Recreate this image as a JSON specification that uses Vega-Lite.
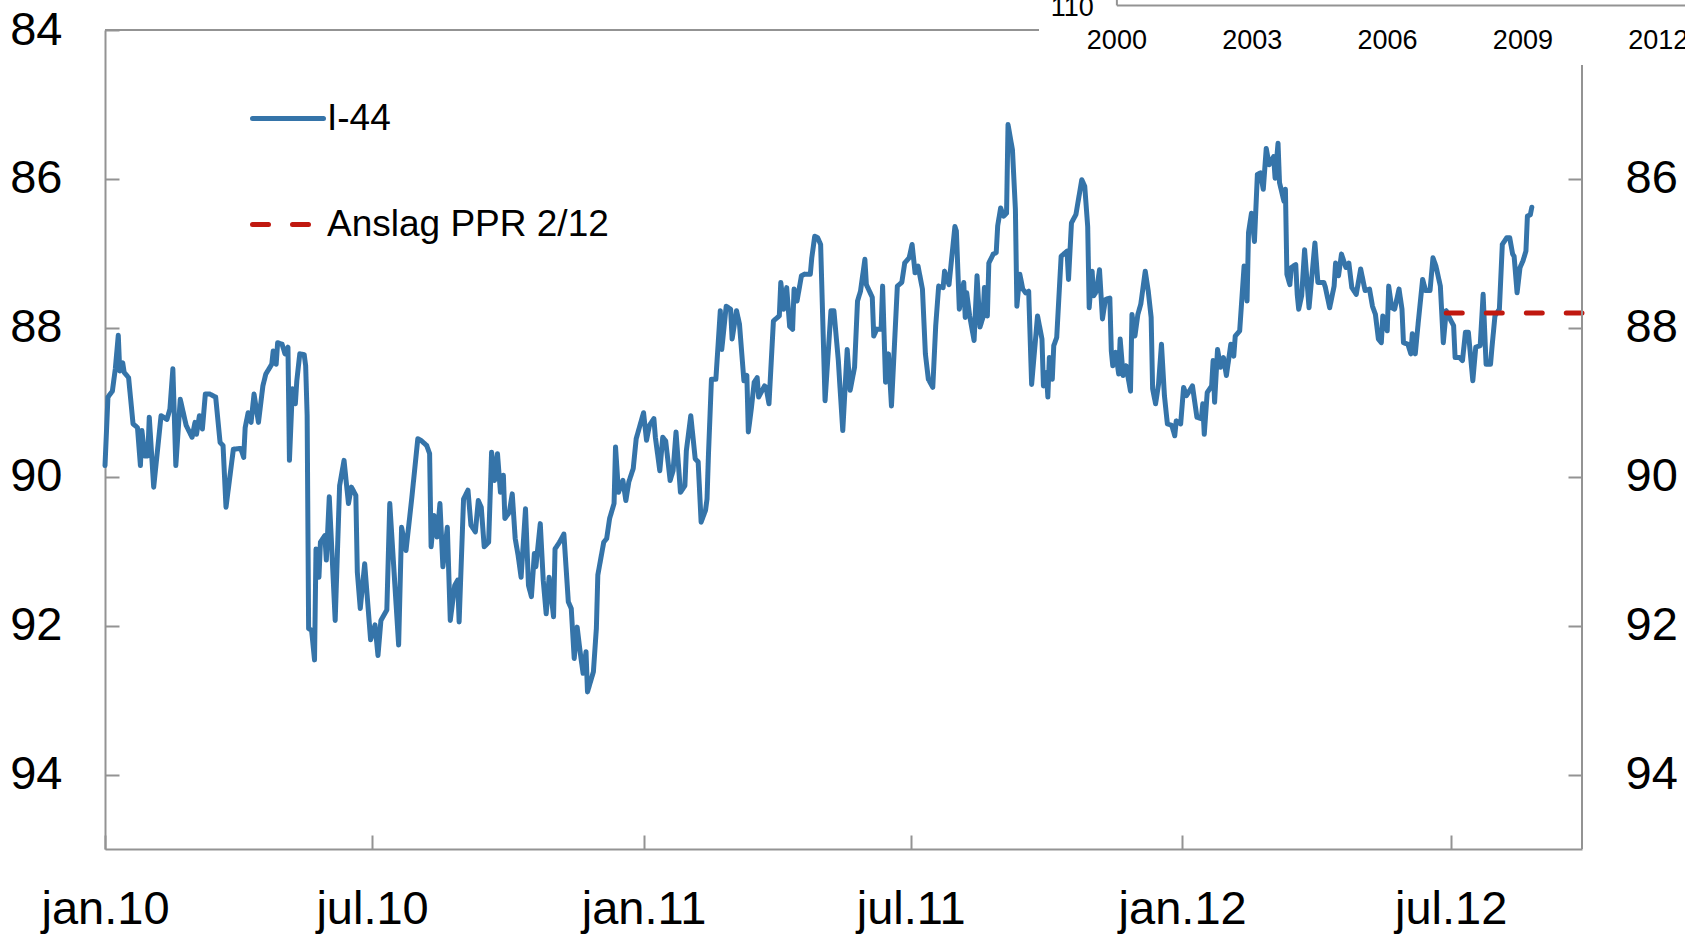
{
  "$schema": "https://vega.github.io/schema/vega-lite/v6.json",
  "width": 1477,
  "height": 819,
  "autosize": {"type": "none"},
  "padding": {"left": 105, "top": 30, "right": 103, "bottom": 86},
  "background": "white",
  "config": {
    "font": "Liberation Sans",
    "view": {"stroke": null},
    "axis": {
      "domainColor": "#939393", "domainWidth": 2,
      "tickColor": "#939393", "tickWidth": 2, "tickSize": -14,
      "labelFont": "Liberation Sans", "labelFontSize": 47, "labelColor": "#000000",
      "grid": false, "title": null, "labelFlush": false, "labelOverlap": false
    }
  },
  "datasets": {
    "series": [
      {"d":"2010-01-01","v":89.85,"s":"I-44"},{"d":"2010-01-03","v":88.93,"s":"I-44"},{"d":"2010-01-06","v":88.85,"s":"I-44"},{"d":"2010-01-08","v":88.55,"s":"I-44"},{"d":"2010-01-10","v":88.10,"s":"I-44"},{"d":"2010-01-11","v":88.58,"s":"I-44"},{"d":"2010-01-13","v":88.47,"s":"I-44"},{"d":"2010-01-14","v":88.60,"s":"I-44"},{"d":"2010-01-17","v":88.67,"s":"I-44"},{"d":"2010-01-20","v":89.29,"s":"I-44"},{"d":"2010-01-23","v":89.34,"s":"I-44"},{"d":"2010-01-25","v":89.85,"s":"I-44"},{"d":"2010-01-26","v":89.38,"s":"I-44"},{"d":"2010-01-28","v":89.72,"s":"I-44"},{"d":"2010-01-30","v":89.72,"s":"I-44"},{"d":"2010-01-31","v":89.20,"s":"I-44"},{"d":"2010-02-03","v":90.14,"s":"I-44"},{"d":"2010-02-08","v":89.18,"s":"I-44"},{"d":"2010-02-12","v":89.23,"s":"I-44"},{"d":"2010-02-14","v":89.09,"s":"I-44"},{"d":"2010-02-16","v":88.55,"s":"I-44"},{"d":"2010-02-18","v":89.85,"s":"I-44"},{"d":"2010-02-21","v":88.96,"s":"I-44"},{"d":"2010-02-25","v":89.31,"s":"I-44"},{"d":"2010-03-01","v":89.47,"s":"I-44"},{"d":"2010-03-03","v":89.27,"s":"I-44"},{"d":"2010-03-04","v":89.43,"s":"I-44"},{"d":"2010-03-06","v":89.18,"s":"I-44"},{"d":"2010-03-08","v":89.36,"s":"I-44"},{"d":"2010-03-10","v":88.89,"s":"I-44"},{"d":"2010-03-13","v":88.89,"s":"I-44"},{"d":"2010-03-17","v":88.93,"s":"I-44"},{"d":"2010-03-20","v":89.54,"s":"I-44"},{"d":"2010-03-22","v":89.58,"s":"I-44"},{"d":"2010-03-24","v":90.41,"s":"I-44"},{"d":"2010-03-29","v":89.63,"s":"I-44"},{"d":"2010-04-03","v":89.62,"s":"I-44"},{"d":"2010-04-05","v":89.74,"s":"I-44"},{"d":"2010-04-06","v":89.34,"s":"I-44"},{"d":"2010-04-08","v":89.14,"s":"I-44"},{"d":"2010-04-10","v":89.27,"s":"I-44"},{"d":"2010-04-12","v":88.89,"s":"I-44"},{"d":"2010-04-15","v":89.27,"s":"I-44"},{"d":"2010-04-18","v":88.78,"s":"I-44"},{"d":"2010-04-20","v":88.62,"s":"I-44"},{"d":"2010-04-24","v":88.49,"s":"I-44"},{"d":"2010-04-25","v":88.31,"s":"I-44"},{"d":"2010-04-27","v":88.49,"s":"I-44"},{"d":"2010-04-28","v":88.20,"s":"I-44"},{"d":"2010-05-01","v":88.22,"s":"I-44"},{"d":"2010-05-03","v":88.35,"s":"I-44"},{"d":"2010-05-05","v":88.26,"s":"I-44"},{"d":"2010-05-06","v":89.78,"s":"I-44"},{"d":"2010-05-08","v":88.82,"s":"I-44"},{"d":"2010-05-10","v":89.02,"s":"I-44"},{"d":"2010-05-11","v":88.71,"s":"I-44"},{"d":"2010-05-13","v":88.35,"s":"I-44"},{"d":"2010-05-16","v":88.36,"s":"I-44"},{"d":"2010-05-17","v":88.51,"s":"I-44"},{"d":"2010-05-18","v":89.18,"s":"I-44"},{"d":"2010-05-19","v":92.04,"s":"I-44"},{"d":"2010-05-21","v":92.06,"s":"I-44"},{"d":"2010-05-23","v":92.46,"s":"I-44"},{"d":"2010-05-24","v":90.97,"s":"I-44"},{"d":"2010-05-26","v":91.35,"s":"I-44"},{"d":"2010-05-27","v":90.88,"s":"I-44"},{"d":"2010-05-30","v":90.79,"s":"I-44"},{"d":"2010-05-31","v":91.12,"s":"I-44"},{"d":"2010-06-02","v":90.27,"s":"I-44"},{"d":"2010-06-06","v":91.93,"s":"I-44"},{"d":"2010-06-09","v":90.12,"s":"I-44"},{"d":"2010-06-12","v":89.78,"s":"I-44"},{"d":"2010-06-15","v":90.36,"s":"I-44"},{"d":"2010-06-17","v":90.14,"s":"I-44"},{"d":"2010-06-20","v":90.25,"s":"I-44"},{"d":"2010-06-21","v":91.28,"s":"I-44"},{"d":"2010-06-23","v":91.77,"s":"I-44"},{"d":"2010-06-26","v":91.17,"s":"I-44"},{"d":"2010-06-30","v":92.19,"s":"I-44"},{"d":"2010-07-03","v":91.99,"s":"I-44"},{"d":"2010-07-05","v":92.40,"s":"I-44"},{"d":"2010-07-07","v":91.93,"s":"I-44"},{"d":"2010-07-11","v":91.79,"s":"I-44"},{"d":"2010-07-13","v":90.36,"s":"I-44"},{"d":"2010-07-19","v":92.26,"s":"I-44"},{"d":"2010-07-21","v":90.68,"s":"I-44"},{"d":"2010-07-24","v":90.99,"s":"I-44"},{"d":"2010-07-28","v":90.27,"s":"I-44"},{"d":"2010-08-01","v":89.49,"s":"I-44"},{"d":"2010-08-03","v":89.51,"s":"I-44"},{"d":"2010-08-07","v":89.58,"s":"I-44"},{"d":"2010-08-09","v":89.69,"s":"I-44"},{"d":"2010-08-10","v":90.94,"s":"I-44"},{"d":"2010-08-12","v":90.52,"s":"I-44"},{"d":"2010-08-14","v":90.81,"s":"I-44"},{"d":"2010-08-16","v":90.36,"s":"I-44"},{"d":"2010-08-18","v":91.21,"s":"I-44"},{"d":"2010-08-21","v":90.68,"s":"I-44"},{"d":"2010-08-23","v":91.93,"s":"I-44"},{"d":"2010-08-26","v":91.46,"s":"I-44"},{"d":"2010-08-28","v":91.39,"s":"I-44"},{"d":"2010-08-29","v":91.95,"s":"I-44"},{"d":"2010-09-01","v":90.30,"s":"I-44"},{"d":"2010-09-04","v":90.18,"s":"I-44"},{"d":"2010-09-06","v":90.65,"s":"I-44"},{"d":"2010-09-09","v":90.74,"s":"I-44"},{"d":"2010-09-11","v":90.32,"s":"I-44"},{"d":"2010-09-13","v":90.41,"s":"I-44"},{"d":"2010-09-15","v":90.94,"s":"I-44"},{"d":"2010-09-18","v":90.88,"s":"I-44"},{"d":"2010-09-20","v":89.67,"s":"I-44"},{"d":"2010-09-22","v":90.05,"s":"I-44"},{"d":"2010-09-24","v":89.69,"s":"I-44"},{"d":"2010-09-26","v":90.21,"s":"I-44"},{"d":"2010-09-28","v":89.98,"s":"I-44"},{"d":"2010-09-29","v":90.56,"s":"I-44"},{"d":"2010-10-02","v":90.48,"s":"I-44"},{"d":"2010-10-04","v":90.23,"s":"I-44"},{"d":"2010-10-06","v":90.83,"s":"I-44"},{"d":"2010-10-08","v":91.06,"s":"I-44"},{"d":"2010-10-10","v":91.35,"s":"I-44"},{"d":"2010-10-13","v":90.43,"s":"I-44"},{"d":"2010-10-15","v":91.46,"s":"I-44"},{"d":"2010-10-17","v":91.61,"s":"I-44"},{"d":"2010-10-19","v":91.03,"s":"I-44"},{"d":"2010-10-20","v":91.21,"s":"I-44"},{"d":"2010-10-23","v":90.63,"s":"I-44"},{"d":"2010-10-25","v":91.39,"s":"I-44"},{"d":"2010-10-27","v":91.84,"s":"I-44"},{"d":"2010-10-29","v":91.35,"s":"I-44"},{"d":"2010-11-01","v":91.88,"s":"I-44"},{"d":"2010-11-02","v":90.97,"s":"I-44"},{"d":"2010-11-05","v":90.88,"s":"I-44"},{"d":"2010-11-08","v":90.77,"s":"I-44"},{"d":"2010-11-11","v":91.68,"s":"I-44"},{"d":"2010-11-13","v":91.77,"s":"I-44"},{"d":"2010-11-15","v":92.44,"s":"I-44"},{"d":"2010-11-17","v":92.02,"s":"I-44"},{"d":"2010-11-19","v":92.35,"s":"I-44"},{"d":"2010-11-21","v":92.64,"s":"I-44"},{"d":"2010-11-23","v":92.35,"s":"I-44"},{"d":"2010-11-24","v":92.89,"s":"I-44"},{"d":"2010-11-28","v":92.62,"s":"I-44"},{"d":"2010-11-30","v":92.04,"s":"I-44"},{"d":"2010-12-01","v":91.32,"s":"I-44"},{"d":"2010-12-05","v":90.88,"s":"I-44"},{"d":"2010-12-07","v":90.83,"s":"I-44"},{"d":"2010-12-09","v":90.56,"s":"I-44"},{"d":"2010-12-12","v":90.36,"s":"I-44"},{"d":"2010-12-13","v":89.60,"s":"I-44"},{"d":"2010-12-15","v":90.21,"s":"I-44"},{"d":"2010-12-18","v":90.05,"s":"I-44"},{"d":"2010-12-20","v":90.32,"s":"I-44"},{"d":"2010-12-22","v":90.07,"s":"I-44"},{"d":"2010-12-25","v":89.89,"s":"I-44"},{"d":"2010-12-27","v":89.49,"s":"I-44"},
      {"d":"2011-01-01","v":89.14,"s":"I-44"},{"d":"2011-01-03","v":89.51,"s":"I-44"},{"d":"2011-01-05","v":89.31,"s":"I-44"},{"d":"2011-01-08","v":89.22,"s":"I-44"},{"d":"2011-01-09","v":89.47,"s":"I-44"},{"d":"2011-01-12","v":89.92,"s":"I-44"},{"d":"2011-01-14","v":89.47,"s":"I-44"},{"d":"2011-01-16","v":89.52,"s":"I-44"},{"d":"2011-01-19","v":90.05,"s":"I-44"},{"d":"2011-01-21","v":89.92,"s":"I-44"},{"d":"2011-01-23","v":89.40,"s":"I-44"},{"d":"2011-01-26","v":90.21,"s":"I-44"},{"d":"2011-01-29","v":90.12,"s":"I-44"},{"d":"2011-01-30","v":89.65,"s":"I-44"},{"d":"2011-02-02","v":89.18,"s":"I-44"},{"d":"2011-02-05","v":89.76,"s":"I-44"},{"d":"2011-02-07","v":89.80,"s":"I-44"},{"d":"2011-02-09","v":90.61,"s":"I-44"},{"d":"2011-02-12","v":90.45,"s":"I-44"},{"d":"2011-02-13","v":90.30,"s":"I-44"},{"d":"2011-02-14","v":89.69,"s":"I-44"},{"d":"2011-02-16","v":88.69,"s":"I-44"},{"d":"2011-02-19","v":88.69,"s":"I-44"},{"d":"2011-02-22","v":87.77,"s":"I-44"},{"d":"2011-02-23","v":88.29,"s":"I-44"},{"d":"2011-02-26","v":87.71,"s":"I-44"},{"d":"2011-03-01","v":87.75,"s":"I-44"},{"d":"2011-03-02","v":88.15,"s":"I-44"},{"d":"2011-03-05","v":87.77,"s":"I-44"},{"d":"2011-03-07","v":87.95,"s":"I-44"},{"d":"2011-03-10","v":88.71,"s":"I-44"},{"d":"2011-03-12","v":88.64,"s":"I-44"},{"d":"2011-03-13","v":89.40,"s":"I-44"},{"d":"2011-03-15","v":89.09,"s":"I-44"},{"d":"2011-03-17","v":88.73,"s":"I-44"},{"d":"2011-03-19","v":88.67,"s":"I-44"},{"d":"2011-03-20","v":88.93,"s":"I-44"},{"d":"2011-03-24","v":88.78,"s":"I-44"},{"d":"2011-03-25","v":88.80,"s":"I-44"},{"d":"2011-03-27","v":89.02,"s":"I-44"},{"d":"2011-03-30","v":87.91,"s":"I-44"},{"d":"2011-03-31","v":87.89,"s":"I-44"},{"d":"2011-04-03","v":87.84,"s":"I-44"},{"d":"2011-04-04","v":87.39,"s":"I-44"},{"d":"2011-04-06","v":87.75,"s":"I-44"},{"d":"2011-04-08","v":87.46,"s":"I-44"},{"d":"2011-04-10","v":87.98,"s":"I-44"},{"d":"2011-04-12","v":88.02,"s":"I-44"},{"d":"2011-04-13","v":87.48,"s":"I-44"},{"d":"2011-04-15","v":87.64,"s":"I-44"},{"d":"2011-04-18","v":87.30,"s":"I-44"},{"d":"2011-04-20","v":87.28,"s":"I-44"},{"d":"2011-04-24","v":87.28,"s":"I-44"},{"d":"2011-04-25","v":87.06,"s":"I-44"},{"d":"2011-04-27","v":86.77,"s":"I-44"},{"d":"2011-04-29","v":86.79,"s":"I-44"},{"d":"2011-05-01","v":86.88,"s":"I-44"},{"d":"2011-05-04","v":88.98,"s":"I-44"},{"d":"2011-05-08","v":87.77,"s":"I-44"},{"d":"2011-05-10","v":87.77,"s":"I-44"},{"d":"2011-05-13","v":88.44,"s":"I-44"},{"d":"2011-05-14","v":88.76,"s":"I-44"},{"d":"2011-05-16","v":89.38,"s":"I-44"},{"d":"2011-05-19","v":88.29,"s":"I-44"},{"d":"2011-05-21","v":88.84,"s":"I-44"},{"d":"2011-05-24","v":88.53,"s":"I-44"},{"d":"2011-05-26","v":87.64,"s":"I-44"},{"d":"2011-05-28","v":87.51,"s":"I-44"},{"d":"2011-05-31","v":87.08,"s":"I-44"},{"d":"2011-06-01","v":87.42,"s":"I-44"},{"d":"2011-06-05","v":87.59,"s":"I-44"},{"d":"2011-06-06","v":88.11,"s":"I-44"},{"d":"2011-06-08","v":88.02,"s":"I-44"},{"d":"2011-06-11","v":88.02,"s":"I-44"},{"d":"2011-06-12","v":87.44,"s":"I-44"},{"d":"2011-06-14","v":88.73,"s":"I-44"},{"d":"2011-06-16","v":88.35,"s":"I-44"},{"d":"2011-06-18","v":89.05,"s":"I-44"},{"d":"2011-06-22","v":87.44,"s":"I-44"},{"d":"2011-06-25","v":87.39,"s":"I-44"},{"d":"2011-06-27","v":87.13,"s":"I-44"},{"d":"2011-06-30","v":87.06,"s":"I-44"},{"d":"2011-07-02","v":86.88,"s":"I-44"},{"d":"2011-07-04","v":87.26,"s":"I-44"},{"d":"2011-07-06","v":87.17,"s":"I-44"},{"d":"2011-07-09","v":87.48,"s":"I-44"},{"d":"2011-07-11","v":88.35,"s":"I-44"},{"d":"2011-07-13","v":88.69,"s":"I-44"},{"d":"2011-07-16","v":88.80,"s":"I-44"},{"d":"2011-07-18","v":87.97,"s":"I-44"},{"d":"2011-07-20","v":87.44,"s":"I-44"},{"d":"2011-07-23","v":87.46,"s":"I-44"},{"d":"2011-07-24","v":87.24,"s":"I-44"},{"d":"2011-07-27","v":87.42,"s":"I-44"},{"d":"2011-07-31","v":86.64,"s":"I-44"},{"d":"2011-08-01","v":86.70,"s":"I-44"},{"d":"2011-08-03","v":87.75,"s":"I-44"},{"d":"2011-08-05","v":87.51,"s":"I-44"},{"d":"2011-08-06","v":87.39,"s":"I-44"},{"d":"2011-08-07","v":87.86,"s":"I-44"},{"d":"2011-08-08","v":87.53,"s":"I-44"},{"d":"2011-08-10","v":87.84,"s":"I-44"},{"d":"2011-08-13","v":88.17,"s":"I-44"},{"d":"2011-08-15","v":87.30,"s":"I-44"},{"d":"2011-08-17","v":87.99,"s":"I-44"},{"d":"2011-08-19","v":87.86,"s":"I-44"},{"d":"2011-08-20","v":87.46,"s":"I-44"},{"d":"2011-08-22","v":87.84,"s":"I-44"},{"d":"2011-08-23","v":87.13,"s":"I-44"},{"d":"2011-08-26","v":87.01,"s":"I-44"},{"d":"2011-08-28","v":86.99,"s":"I-44"},{"d":"2011-08-29","v":86.63,"s":"I-44"},{"d":"2011-08-31","v":86.39,"s":"I-44"},{"d":"2011-09-02","v":86.50,"s":"I-44"},{"d":"2011-09-04","v":86.46,"s":"I-44"},{"d":"2011-09-05","v":85.27,"s":"I-44"},{"d":"2011-09-08","v":85.61,"s":"I-44"},{"d":"2011-09-10","v":86.41,"s":"I-44"},{"d":"2011-09-11","v":87.71,"s":"I-44"},{"d":"2011-09-13","v":87.28,"s":"I-44"},{"d":"2011-09-15","v":87.48,"s":"I-44"},{"d":"2011-09-17","v":87.53,"s":"I-44"},{"d":"2011-09-19","v":87.51,"s":"I-44"},{"d":"2011-09-21","v":88.76,"s":"I-44"},{"d":"2011-09-25","v":87.84,"s":"I-44"},{"d":"2011-09-28","v":88.15,"s":"I-44"},{"d":"2011-09-29","v":88.78,"s":"I-44"},{"d":"2011-10-01","v":88.60,"s":"I-44"},{"d":"2011-10-02","v":88.93,"s":"I-44"},{"d":"2011-10-03","v":88.40,"s":"I-44"},{"d":"2011-10-05","v":88.69,"s":"I-44"},{"d":"2011-10-06","v":88.24,"s":"I-44"},{"d":"2011-10-08","v":88.13,"s":"I-44"},{"d":"2011-10-11","v":87.04,"s":"I-44"},{"d":"2011-10-15","v":86.97,"s":"I-44"},{"d":"2011-10-16","v":87.35,"s":"I-44"},{"d":"2011-10-18","v":86.59,"s":"I-44"},{"d":"2011-10-21","v":86.48,"s":"I-44"},{"d":"2011-10-25","v":86.01,"s":"I-44"},{"d":"2011-10-27","v":86.10,"s":"I-44"},{"d":"2011-10-29","v":86.64,"s":"I-44"},{"d":"2011-10-30","v":87.73,"s":"I-44"},{"d":"2011-11-01","v":87.24,"s":"I-44"},{"d":"2011-11-02","v":87.57,"s":"I-44"},{"d":"2011-11-04","v":87.51,"s":"I-44"},{"d":"2011-11-06","v":87.22,"s":"I-44"},{"d":"2011-11-08","v":87.88,"s":"I-44"},{"d":"2011-11-10","v":87.62,"s":"I-44"},{"d":"2011-11-13","v":87.60,"s":"I-44"},{"d":"2011-11-14","v":88.31,"s":"I-44"},{"d":"2011-11-15","v":88.51,"s":"I-44"},{"d":"2011-11-17","v":88.33,"s":"I-44"},{"d":"2011-11-19","v":88.62,"s":"I-44"},{"d":"2011-11-20","v":88.15,"s":"I-44"},{"d":"2011-11-22","v":88.64,"s":"I-44"},{"d":"2011-11-24","v":88.51,"s":"I-44"},{"d":"2011-11-27","v":88.85,"s":"I-44"},{"d":"2011-11-28","v":87.82,"s":"I-44"},{"d":"2011-11-30","v":88.11,"s":"I-44"},{"d":"2011-12-02","v":87.82,"s":"I-44"},{"d":"2011-12-04","v":87.68,"s":"I-44"},{"d":"2011-12-07","v":87.24,"s":"I-44"},{"d":"2011-12-09","v":87.50,"s":"I-44"},{"d":"2011-12-11","v":87.86,"s":"I-44"},{"d":"2011-12-12","v":88.82,"s":"I-44"},{"d":"2011-12-14","v":89.02,"s":"I-44"},{"d":"2011-12-16","v":88.76,"s":"I-44"},{"d":"2011-12-18","v":88.22,"s":"I-44"},{"d":"2011-12-20","v":88.91,"s":"I-44"},{"d":"2011-12-22","v":89.29,"s":"I-44"},{"d":"2011-12-25","v":89.31,"s":"I-44"},{"d":"2011-12-27","v":89.45,"s":"I-44"},{"d":"2011-12-28","v":89.25,"s":"I-44"},{"d":"2011-12-31","v":89.29,"s":"I-44"},
      {"d":"2012-01-02","v":88.80,"s":"I-44"},{"d":"2012-01-04","v":88.91,"s":"I-44"},{"d":"2012-01-08","v":88.78,"s":"I-44"},{"d":"2012-01-11","v":89.20,"s":"I-44"},{"d":"2012-01-14","v":89.22,"s":"I-44"},{"d":"2012-01-15","v":89.02,"s":"I-44"},{"d":"2012-01-16","v":89.43,"s":"I-44"},{"d":"2012-01-18","v":88.87,"s":"I-44"},{"d":"2012-01-21","v":88.78,"s":"I-44"},{"d":"2012-01-22","v":88.44,"s":"I-44"},{"d":"2012-01-23","v":89.00,"s":"I-44"},{"d":"2012-01-25","v":88.29,"s":"I-44"},{"d":"2012-01-27","v":88.53,"s":"I-44"},{"d":"2012-01-29","v":88.40,"s":"I-44"},{"d":"2012-01-31","v":88.64,"s":"I-44"},{"d":"2012-02-03","v":88.22,"s":"I-44"},{"d":"2012-02-05","v":88.38,"s":"I-44"},{"d":"2012-02-06","v":88.11,"s":"I-44"},{"d":"2012-02-09","v":88.04,"s":"I-44"},{"d":"2012-02-12","v":87.17,"s":"I-44"},{"d":"2012-02-14","v":87.64,"s":"I-44"},{"d":"2012-02-15","v":86.72,"s":"I-44"},{"d":"2012-02-17","v":86.46,"s":"I-44"},{"d":"2012-02-19","v":86.84,"s":"I-44"},{"d":"2012-02-21","v":85.94,"s":"I-44"},{"d":"2012-02-23","v":85.92,"s":"I-44"},{"d":"2012-02-25","v":86.14,"s":"I-44"},{"d":"2012-02-27","v":85.59,"s":"I-44"},{"d":"2012-02-29","v":85.81,"s":"I-44"},{"d":"2012-03-03","v":85.70,"s":"I-44"},{"d":"2012-03-04","v":85.99,"s":"I-44"},{"d":"2012-03-06","v":85.52,"s":"I-44"},{"d":"2012-03-07","v":86.05,"s":"I-44"},{"d":"2012-03-10","v":86.30,"s":"I-44"},{"d":"2012-03-11","v":86.14,"s":"I-44"},{"d":"2012-03-12","v":87.28,"s":"I-44"},{"d":"2012-03-14","v":87.42,"s":"I-44"},{"d":"2012-03-15","v":87.19,"s":"I-44"},{"d":"2012-03-18","v":87.15,"s":"I-44"},{"d":"2012-03-19","v":87.55,"s":"I-44"},{"d":"2012-03-20","v":87.75,"s":"I-44"},{"d":"2012-03-22","v":87.57,"s":"I-44"},{"d":"2012-03-24","v":86.95,"s":"I-44"},{"d":"2012-03-27","v":87.73,"s":"I-44"},{"d":"2012-03-31","v":86.86,"s":"I-44"},{"d":"2012-04-02","v":87.39,"s":"I-44"},{"d":"2012-04-06","v":87.39,"s":"I-44"},{"d":"2012-04-07","v":87.45,"s":"I-44"},{"d":"2012-04-10","v":87.73,"s":"I-44"},{"d":"2012-04-13","v":87.44,"s":"I-44"},{"d":"2012-04-14","v":87.13,"s":"I-44"},{"d":"2012-04-16","v":87.30,"s":"I-44"},{"d":"2012-04-18","v":87.01,"s":"I-44"},{"d":"2012-04-21","v":87.19,"s":"I-44"},{"d":"2012-04-23","v":87.13,"s":"I-44"},{"d":"2012-04-25","v":87.46,"s":"I-44"},{"d":"2012-04-28","v":87.55,"s":"I-44"},{"d":"2012-05-01","v":87.21,"s":"I-44"},{"d":"2012-05-04","v":87.50,"s":"I-44"},{"d":"2012-05-07","v":87.48,"s":"I-44"},{"d":"2012-05-09","v":87.71,"s":"I-44"},{"d":"2012-05-11","v":87.82,"s":"I-44"},{"d":"2012-05-13","v":88.15,"s":"I-44"},{"d":"2012-05-15","v":88.20,"s":"I-44"},{"d":"2012-05-16","v":87.84,"s":"I-44"},{"d":"2012-05-19","v":88.04,"s":"I-44"},{"d":"2012-05-20","v":87.44,"s":"I-44"},{"d":"2012-05-22","v":87.73,"s":"I-44"},{"d":"2012-05-24","v":87.75,"s":"I-44"},{"d":"2012-05-27","v":87.48,"s":"I-44"},{"d":"2012-05-29","v":87.75,"s":"I-44"},{"d":"2012-05-30","v":88.20,"s":"I-44"},{"d":"2012-06-02","v":88.22,"s":"I-44"},{"d":"2012-06-04","v":88.35,"s":"I-44"},{"d":"2012-06-05","v":88.08,"s":"I-44"},{"d":"2012-06-07","v":88.35,"s":"I-44"},{"d":"2012-06-09","v":87.93,"s":"I-44"},{"d":"2012-06-12","v":87.35,"s":"I-44"},{"d":"2012-06-14","v":87.50,"s":"I-44"},{"d":"2012-06-17","v":87.50,"s":"I-44"},{"d":"2012-06-19","v":87.06,"s":"I-44"},{"d":"2012-06-21","v":87.17,"s":"I-44"},{"d":"2012-06-24","v":87.44,"s":"I-44"},{"d":"2012-06-26","v":88.20,"s":"I-44"},{"d":"2012-06-28","v":87.77,"s":"I-44"},{"d":"2012-06-30","v":87.86,"s":"I-44"},{"d":"2012-07-03","v":87.97,"s":"I-44"},{"d":"2012-07-04","v":88.40,"s":"I-44"},{"d":"2012-07-07","v":88.40,"s":"I-44"},{"d":"2012-07-09","v":88.44,"s":"I-44"},{"d":"2012-07-11","v":88.06,"s":"I-44"},{"d":"2012-07-13","v":88.06,"s":"I-44"},{"d":"2012-07-16","v":88.71,"s":"I-44"},{"d":"2012-07-18","v":88.26,"s":"I-44"},{"d":"2012-07-21","v":88.24,"s":"I-44"},{"d":"2012-07-23","v":87.55,"s":"I-44"},{"d":"2012-07-25","v":88.49,"s":"I-44"},{"d":"2012-07-28","v":88.49,"s":"I-44"},{"d":"2012-07-29","v":88.26,"s":"I-44"},{"d":"2012-07-31","v":87.84,"s":"I-44"},{"d":"2012-08-03","v":87.75,"s":"I-44"},{"d":"2012-08-05","v":86.88,"s":"I-44"},{"d":"2012-08-08","v":86.79,"s":"I-44"},{"d":"2012-08-10","v":86.79,"s":"I-44"},{"d":"2012-08-12","v":87.01,"s":"I-44"},{"d":"2012-08-13","v":87.04,"s":"I-44"},{"d":"2012-08-15","v":87.53,"s":"I-44"},{"d":"2012-08-17","v":87.19,"s":"I-44"},{"d":"2012-08-19","v":87.10,"s":"I-44"},{"d":"2012-08-21","v":86.97,"s":"I-44"},{"d":"2012-08-22","v":86.50,"s":"I-44"},{"d":"2012-08-24","v":86.48,"s":"I-44"},{"d":"2012-08-25","v":86.38,"s":"I-44"},
      {"d":"2012-06-28","v":87.80,"s":"Anslag PPR 2/12"},{"d":"2012-09-28","v":87.80,"s":"Anslag PPR 2/12"}
    ]
  },
  "layer": [
    {
      "layer": [
        {
          "data": {"name": "series"},
          "mark": {"type": "line", "strokeWidth": 5, "strokeCap": "round", "strokeJoin": "round"},
          "encoding": {
            "x": {
              "field": "d", "type": "temporal",
              "scale": {"type": "utc", "domain": [{"year": 2010, "month": 1, "date": 1, "utc": true}, {"year": 2012, "month": 9, "date": 28, "utc": true}], "nice": false},
              "axis": {
                "orient": "bottom",
                "values": [
                  {"year": 2010, "month": 1, "date": 1, "utc": true},
                  {"year": 2010, "month": 7, "date": 1, "utc": true},
                  {"year": 2011, "month": 1, "date": 1, "utc": true},
                  {"year": 2011, "month": 7, "date": 1, "utc": true},
                  {"year": 2012, "month": 1, "date": 1, "utc": true},
                  {"year": 2012, "month": 7, "date": 1, "utc": true}
                ],
                "labelExpr": "lower(utcFormat(datum.value, '%b')) + '.' + utcFormat(datum.value, '%y')",
                "labelPadding": 51,
                "labelAlign": "center",
                "labelBaseline": "top"
              }
            },
            "y": {
              "field": "v", "type": "quantitative",
              "scale": {"domain": [84, 95], "reverse": true, "zero": false, "nice": false},
              "axis": {"orient": "left", "values": [84, 86, 88, 90, 92, 94], "labelPadding": 57}
            },
            "color": {
              "field": "s", "type": "nominal",
              "scale": {"domain": ["I-44", "Anslag PPR 2/12"], "range": ["#3574a9", "#c0180f"]},
              "legend": {
                "orient": "none", "legendX": 145, "legendY": 50.5, "title": null,
                "symbolType": "stroke", "symbolSize": 5041, "symbolStrokeWidth": 5,
                "labelFont": "Liberation Sans", "labelFontSize": 37, "labelColor": "#000000",
                "labelOffset": 1, "rowPadding": 50, "padding": 0, "labelLimit": 800,
                "encode": {"symbols": {"update": {"strokeCap": {"value": "round"}}}}
              }
            },
            "strokeDash": {
              "field": "s", "type": "nominal",
              "scale": {"domain": ["I-44", "Anslag PPR 2/12"], "range": [[1, 0], [16, 24]]},
              "legend": {
                "orient": "none", "legendX": 145, "legendY": 50.5, "title": null,
                "symbolType": "stroke", "symbolSize": 5041, "symbolStrokeWidth": 5,
                "labelFont": "Liberation Sans", "labelFontSize": 37, "labelColor": "#000000",
                "labelOffset": 1, "rowPadding": 50, "padding": 0, "labelLimit": 800,
                "encode": {"symbols": {"update": {"strokeCap": {"value": "round"}}}}
              }
            }
          }
        },
        {
          "data": {"values": [{"start": "2010-01-01", "end": "2011-09-26", "lvl": 84}]},
          "mark": {"type": "rule", "color": "#939393", "strokeWidth": 2},
          "encoding": {
            "x": {"field": "start", "type": "temporal", "scale": {"type": "utc", "domain": [{"year": 2010, "month": 1, "date": 1, "utc": true}, {"year": 2012, "month": 9, "date": 28, "utc": true}], "nice": false}},
            "x2": {"field": "end"},
            "y": {"field": "lvl", "type": "quantitative", "scale": {"domain": [84, 95], "reverse": true, "zero": false, "nice": false}, "axis": null}
          }
        },
        {
          "data": {"values": [{"at": "2012-09-28", "lo": 84.47, "hi": 95}]},
          "mark": {"type": "rule", "color": "#939393", "strokeWidth": 2},
          "encoding": {
            "x": {"field": "at", "type": "temporal", "scale": {"type": "utc", "domain": [{"year": 2010, "month": 1, "date": 1, "utc": true}, {"year": 2012, "month": 9, "date": 28, "utc": true}], "nice": false}},
            "y": {
              "field": "lo", "type": "quantitative",
              "scale": {"domain": [84, 95], "reverse": true, "zero": false, "nice": false},
              "axis": {"orient": "right", "values": [86, 88, 90, 92, 94], "domain": false, "labelPadding": 57}
            },
            "y2": {"field": "hi"}
          }
        }
      ],
      "resolve": {"axis": {"y": "independent"}}
    },
    {
      "layer": [
        {
          "data": {"values": [{"a": 2000, "b": 2014}]},
          "mark": {"type": "rule", "color": "#939393", "strokeWidth": 2},
          "encoding": {
            "x": {"field": "a", "type": "quantitative", "scale": {"domain": [1977.57, 2010.31], "nice": false, "zero": false}, "axis": null},
            "x2": {"field": "b"},
            "y": {"datum": 83.67, "type": "quantitative", "scale": {"domain": [84, 95], "reverse": true, "zero": false, "nice": false}, "axis": null}
          }
        },
        {
          "data": {"values": [{"a": 2000}]},
          "mark": {"type": "rule", "color": "#939393", "strokeWidth": 2},
          "encoding": {
            "x": {"field": "a", "type": "quantitative", "scale": {"domain": [1977.57, 2010.31], "nice": false, "zero": false}, "axis": null},
            "y": {"datum": 83.5, "type": "quantitative", "scale": {"domain": [84, 95], "reverse": true, "zero": false, "nice": false}, "axis": null},
            "y2": {"datum": 83.67}
          }
        },
        {
          "data": {"values": [{"yr": 2000}, {"yr": 2003}, {"yr": 2006}, {"yr": 2009}, {"yr": 2012}]},
          "mark": {"type": "text", "font": "Liberation Sans", "fontSize": 27, "align": "center", "baseline": "middle", "color": "#000000"},
          "encoding": {
            "x": {"field": "yr", "type": "quantitative", "scale": {"domain": [1977.57, 2010.31], "nice": false, "zero": false}, "axis": null},
            "y": {"datum": 84.154, "type": "quantitative", "scale": {"domain": [84, 95], "reverse": true, "zero": false, "nice": false}, "axis": null},
            "text": {"field": "yr", "type": "quantitative", "format": "d"}
          }
        },
        {
          "data": {"values": [{"yr": 2000, "lab": "110"}]},
          "mark": {"type": "text", "font": "Liberation Sans", "fontSize": 27, "align": "right", "baseline": "middle", "dx": -23, "color": "#000000"},
          "encoding": {
            "x": {"field": "yr", "type": "quantitative", "scale": {"domain": [1977.57, 2010.31], "nice": false, "zero": false}, "axis": null},
            "y": {"datum": 83.71, "type": "quantitative", "scale": {"domain": [84, 95], "reverse": true, "zero": false, "nice": false}, "axis": null},
            "text": {"field": "lab", "type": "nominal"}
          }
        }
      ]
    }
  ],
  "resolve": {"scale": {"x": "independent"}, "axis": {"x": "independent", "y": "independent"}}
}
